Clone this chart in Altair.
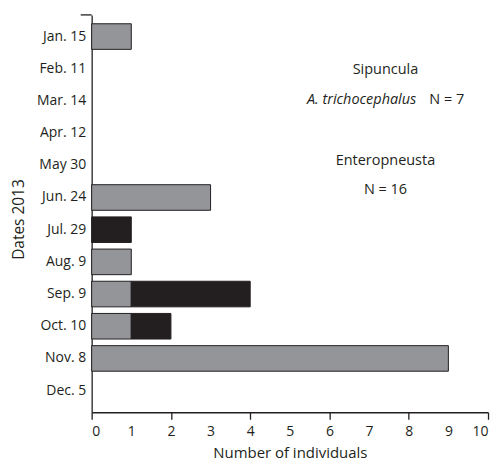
import altair as alt
import pandas as pd

dates = ["Jan. 15", "Feb. 11", "Mar. 14", "Apr. 12", "May 30", "Jun. 24",
         "Jul. 29", "Aug. 9", "Sep. 9", "Oct. 10", "Nov. 8", "Dec. 5"]
enteropneusta = [1, 0, 0, 0, 0, 3, 0, 1, 1, 1, 9, 0]
sipuncula = [0, 0, 0, 0, 0, 0, 1, 0, 3, 1, 0, 0]
groups = ["Enteropneusta", "Sipuncula"]
group_colors = ["#939598", "#231f20"]
x_ticks = list(range(0, 11))

rows = []
for d, e, s in zip(dates, enteropneusta, sipuncula):
    if e > 0:
        rows.append({"date": d, "count": e, "group": groups[0], "ord": 0})
    if s > 0:
        rows.append({"date": d, "count": s, "group": groups[1], "ord": 1})
df = pd.DataFrame(rows)

FONT = "Open Sans"
INK = "#231f20"

bars = alt.Chart(df).mark_bar(stroke=INK, strokeWidth=1).encode(
    y=alt.Y("date:N", sort=dates,
            scale=alt.Scale(domain=dates, paddingInner=0.205, paddingOuter=0.275),
            axis=alt.Axis(title="Dates 2013", ticks=False, labelPadding=6,
                          labelFontSize=14, titleFontSize=15.5, titleFontWeight="normal",
                          titleX=-65, titleY=205, domainColor=INK, domainWidth=1.3,
                          labelColor=INK, titleColor=INK)),
    x=alt.X("count:Q", stack="zero",
            scale=alt.Scale(domain=[0, 10], nice=False),
            axis=alt.Axis(title="Number of individuals", values=x_ticks, format="d",
                          tickSize=7, tickWidth=1.3,
                          tickColor=alt.ExprRef(expr="datum.value % 2 == 0 ? '#231f20' : 'transparent'"),
                          labelPadding=5, labelFontSize=14, titleFontSize=15,
                          titleFontWeight="normal", titleBaseline="alphabetic", titleY=45,
                          domainColor=INK, domainWidth=1.3, labelColor=INK, titleColor=INK,
                          grid=False)),
    color=alt.Color("group:N", scale=alt.Scale(domain=groups, range=group_colors), legend=None),
    order=alt.Order("ord:Q"),
)

top_tick = alt.Chart(pd.DataFrame({"a": [0]})).mark_rule(color=INK, strokeWidth=1.3).encode(
    x=alt.value(-11), x2=alt.value(0), y=alt.value(0)
)

ann_df = pd.DataFrame({"a": [0]})
def label(text, x, y, align="center", style="normal"):
    return alt.Chart(ann_df).mark_text(text=text, align=align, baseline="alphabetic",
                                       fontSize=14.5, font=FONT, fontStyle=style,
                                       color=INK).encode(x=alt.value(x), y=alt.value(y))

annotations = [
    label("Sipuncula", 295, 59),
    label("A. trichocephalus", 326, 89, align="right", style="italic"),
    label("N = 7", 339, 89, align="left"),
    label("Enteropneusta", 295, 151),
    label("N = 16", 295, 180),
]

chart = alt.layer(bars, top_tick, *annotations).properties(
    width=398, height=399,
    padding={"left": 84, "top": 6, "right": 4, "bottom": 50},
    autosize="none",
).configure(font=FONT).configure_view(stroke=None).configure_axis(
    labelFont=FONT, titleFont=FONT
)

chart.save("out.html", embed_options={"renderer": "svg", "actions": False})
